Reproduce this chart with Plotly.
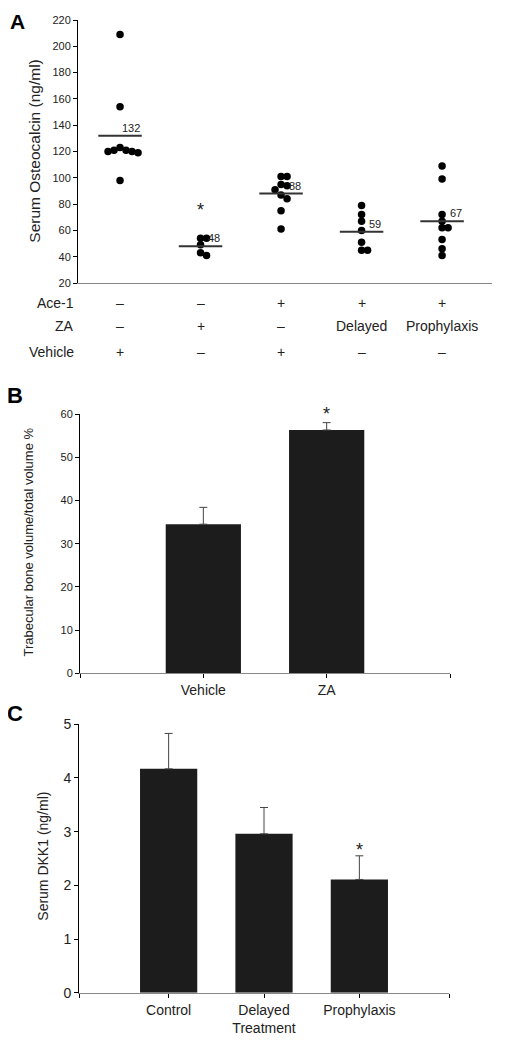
import plotly.graph_objects as go

# ---------------- Data ----------------
# Panel A: serum osteocalcin (ng/ml), dot plot per group
osteo_g1 = [209, 154, 123, 121, 121, 120, 120, 119, 98]
osteo_g2 = [54, 54, 49, 43, 41]
osteo_g3 = [101, 101, 95, 94, 91, 87, 84, 75, 61]
osteo_g4 = [79, 72, 67, 60, 51, 45, 45]
osteo_g5 = [109, 99, 72, 67, 62, 62, 53, 46, 41]
osteo_means = [132, 48, 88, 59, 67]
osteo_sig = ["", "*", "", "", ""]
row_labels = ["Ace-1", "ZA", "Vehicle"]
row_ace1 = ["\u2013", "\u2013", "+", "+", "+"]
row_za = ["\u2013", "+", "\u2013", "Delayed", "Prophylaxis"]
row_vehicle = ["+", "\u2013", "+", "\u2013", "\u2013"]

# Panel B: trabecular bone volume / total volume %
b_categories = ["Vehicle", "ZA"]
b_values = [34.5, 56.3]
b_errors = [3.9, 1.7]
b_sig = ["", "*"]
b_range = [0, 60]

# Panel C: serum DKK1 (ng/ml)
c_categories = ["Control", "Delayed<br>Treatment", "Prophylaxis"]
c_values = [4.17, 2.96, 2.11]
c_errors = [0.66, 0.49, 0.44]
c_sig = ["", "", "*"]
c_range = [0, 5]

# ---------------- Style ----------------
FONT = "Arial, Liberation Sans, sans-serif"
TXT = "#222222"
BAR = "#1c1c1c"
OFF = 8                      # default page body margin
W, H = 525 - OFF, 1050 - OFF


def px(x):
    return (x - OFF) / W


def py(y):
    return 1 - (y - OFF) / H


groups = [osteo_g1, osteo_g2, osteo_g3, osteo_g4, osteo_g5]

# beeswarm offsets computed from the data (pixel-based collision avoidance)
XPX = 80.5   # px per category unit in panel A
YPX = 1.315  # px per osteocalcin unit
STEP = 6.0   # px


def swarm(vals):
    placed = []
    offs = []
    cands = [0]
    for j in range(1, 12):
        cands += [j, -j]
    for v in vals:
        for c in cands:
            ox = c * STEP
            ok = True
            for (ppx, pv) in placed:
                dx = ox - ppx
                dy = (v - pv) * YPX
                if (dx * dx + dy * dy) ** 0.5 < STEP - 0.01:
                    ok = False
                    break
            if ok:
                placed.append((ox, v))
                offs.append(ox / XPX)
                break
    return offs


fig = go.Figure()

# ---- Panel A
for i, vals in enumerate(groups):
    offs = swarm(vals)
    fig.add_trace(go.Scatter(
        x=[i + 1 + o for o in offs], y=vals, mode="markers",
        marker=dict(color="black", size=7.5, line=dict(width=0)),
        xaxis="x", yaxis="y", showlegend=False, hoverinfo="skip"))

shapes = []
annotations = []
for i, m in enumerate(osteo_means):
    shapes.append(dict(type="line", xref="x", yref="y",
                       x0=i + 1 - 0.27, x1=i + 1 + 0.27, y0=m, y1=m,
                       line=dict(color="#333333", width=2)))
    annotations.append(dict(x=i + 1 + 0.27, y=m, xref="x", yref="y",
                            text=str(m), showarrow=False, xanchor="right",
                            yanchor="bottom", yshift=0,
                            font=dict(family=FONT, size=11, color=TXT)))
    if osteo_sig[i]:
        annotations.append(dict(x=i + 1, y=max(groups[i]) + 24, xref="x", yref="y",
                                text=osteo_sig[i], showarrow=False,
                                xanchor="center", yanchor="middle", yshift=-3,
                                font=dict(family=FONT, size=18, color=TXT)))

row_y = [py(303), py(326), py(352)]
for lab, ry, row in zip(row_labels, row_y, [row_ace1, row_za, row_vehicle]):
    annotations.append(dict(x=px(76), y=ry, xref="paper", yref="paper",
                            text=lab, showarrow=False, xanchor="right",
                            yanchor="middle",
                            font=dict(family=FONT, size=14, color=TXT)))
    for i, t in enumerate(row):
        annotations.append(dict(x=i + 1, y=ry, xref="x", yref="paper",
                                text=t, showarrow=False, xanchor="center",
                                yanchor="middle",
                                font=dict(family=FONT, size=14, color=TXT)))

# ---- Panel B
fig.add_trace(go.Bar(
    x=list(range(len(b_values))), y=b_values, width=0.61,
    marker=dict(color=BAR, line=dict(width=0)),
    error_y=dict(type="data", array=b_errors, arrayminus=[0] * len(b_values),
                 symmetric=False, color="#444444", thickness=1, width=4),
    xaxis="x2", yaxis="y2", showlegend=False, hoverinfo="skip"))
for i, s in enumerate(b_sig):
    if s:
        top = b_values[i] + b_errors[i] + 2.7
        annotations.append(dict(x=i, y=(top - b_range[0]) / (b_range[1] - b_range[0]),
                                xref="x2", yref="y2 domain", text=s, showarrow=False,
                                xanchor="center", yanchor="middle", yshift=-3,
                                font=dict(family=FONT, size=18, color=TXT)))

# ---- Panel C
fig.add_trace(go.Bar(
    x=list(range(len(c_values))), y=c_values, width=0.6,
    marker=dict(color=BAR, line=dict(width=0)),
    error_y=dict(type="data", array=c_errors, arrayminus=[0] * len(c_values),
                 symmetric=False, color="#444444", thickness=1, width=4),
    xaxis="x3", yaxis="y3", showlegend=False, hoverinfo="skip"))
for i, s in enumerate(c_sig):
    if s:
        annotations.append(dict(x=i, y=c_values[i] + c_errors[i] + 0.17, xref="x3",
                                yref="y3", text=s, showarrow=False,
                                xanchor="center", yanchor="middle", yshift=-3,
                                font=dict(family=FONT, size=18, color=TXT)))

# axis titles and panel letters
annotations += [
    dict(x=px(35), y=py(151.7), xref="paper", yref="paper", textangle=-90,
         text="Serum Osteocalcin (ng/ml)", showarrow=False,
         xanchor="center", yanchor="middle",
         font=dict(family=FONT, size=15.5, color=TXT)),
    dict(x=px(28), y=py(542.5), xref="paper", yref="paper", textangle=-90,
         text="Trabecular bone volume/total volume %", showarrow=False,
         xanchor="center", yanchor="middle",
         font=dict(family=FONT, size=13, color=TXT)),
    dict(x=px(43), y=py(856.7), xref="paper", yref="paper", textangle=-90,
         text="Serum DKK1 (ng/ml)", showarrow=False,
         xanchor="center", yanchor="middle",
         font=dict(family=FONT, size=14, color=TXT)),
    dict(x=px(17), y=py(8), xref="paper", yref="paper", text="<b>A</b>",
         xanchor="center", yanchor="top",
         showarrow=False, font=dict(family=FONT, size=21, color="black")),
    dict(x=px(15), y=py(395), xref="paper", yref="paper", text="<b>B</b>",
         xanchor="center", yanchor="middle",
         showarrow=False, font=dict(family=FONT, size=22, color="black")),
    dict(x=px(15), y=py(713), xref="paper", yref="paper", text="<b>C</b>",
         xanchor="center", yanchor="middle",
         showarrow=False, font=dict(family=FONT, size=22, color="black")),
]

yax_common = dict(showline=True, linecolor="black", linewidth=1, ticks="outside",
                  ticklen=4, tickcolor="black", showgrid=False, zeroline=False,
                  color=TXT, automargin=False)
xax_common = dict(showline=True, linecolor="#888888", linewidth=1, showgrid=False,
                  zeroline=False, color=TXT, automargin=False)

fig.update_layout(
    template="none",
    width=W, height=H, margin=dict(l=0, r=0, t=0, b=0, pad=0),
    paper_bgcolor="white", plot_bgcolor="white",
    font=dict(family=FONT, color=TXT),
    shapes=shapes, annotations=annotations,
    xaxis=dict(domain=[px(78), px(492)], range=[0.478, 5.62], anchor="y",
               showticklabels=False, ticks="", **xax_common),
    yaxis=dict(domain=[py(283), py(20)], range=[20, 220], dtick=20,
               anchor="x", tickfont=dict(size=11), **yax_common),
    xaxis2=dict(domain=[px(80), px(450)], range=[-1, 2], anchor="y2",
                tickvals=[-1, 0, 1, 2], ticktext=[""] + b_categories + [""],
                ticks="outside", ticklen=4, tickcolor="black",
                tickfont=dict(size=14), **xax_common),
    yaxis2=dict(domain=[py(673.3), py(414)], range=b_range, dtick=10,
                anchor="x2", tickfont=dict(size=11), **yax_common),
    xaxis3=dict(domain=[px(79), px(449)], range=[-0.94, 2.94], anchor="y3",
                tickvals=[-0.94, 0, 1, 2, 2.94], ticktext=[""] + c_categories + [""],
                ticks="outside", ticklen=4, tickcolor="black",
                tickfont=dict(size=14), **xax_common),
    yaxis3=dict(domain=[py(992.7), py(724.3)], range=c_range, dtick=1,
                anchor="x3", tickfont=dict(size=14), **yax_common),
)

fig.write_html("out.html")
